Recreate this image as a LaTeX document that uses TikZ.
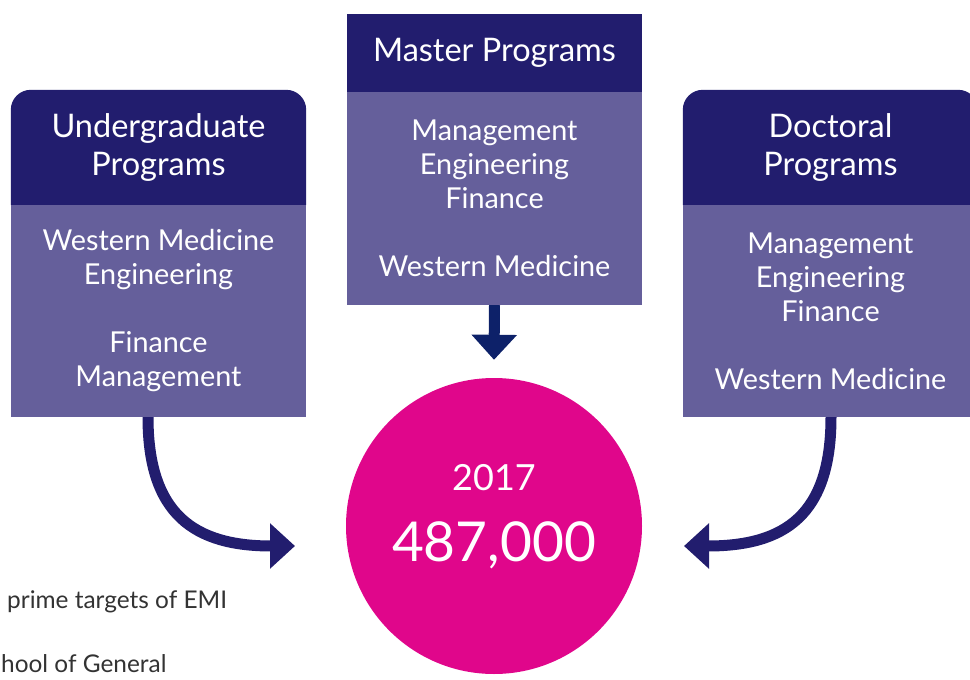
\documentclass[tikz,border=0pt]{standalone}
\usepackage{fontspec}
\setmainfont{Lato}
\usetikzlibrary{arrows.meta,backgrounds}
\definecolor{hdrblue}{RGB}{34,29,110}
\definecolor{bodyblue}{RGB}{101,95,155}
\definecolor{pinkdot}{RGB}{224,6,139}
\definecolor{downblue}{RGB}{13,33,105}
\definecolor{notegray}{RGB}{51,51,51}
\begin{document}
\begin{tikzpicture}[x=1pt, y=-1pt,
    head/.style={minimum width=295pt, inner sep=0pt, text=white, align=center, font=\fontsize{32.5}{38}\selectfont},
    body/.style={fill=bodyblue, minimum width=295pt, inner sep=0pt, text=white, align=center, font=\fontsize{28.8}{34}\selectfont},
    curvearrow/.style={draw=hdrblue, line width=11pt, -{Triangle[length=25pt,width=44pt]}},
    droparrow/.style={draw=downblue, line width=11pt, -{Triangle[length=25pt,width=44pt]}},
    note/.style={anchor=west, inner sep=0pt, text=notegray, font=\fontsize{24.4}{28}\selectfont}]
  \useasboundingbox (0,0) rectangle (970,680);
  \clip (0,0) rectangle (970,680);

  \node[head, minimum height=115pt] (ugHead) at (158.5,147.5) {Undergraduate\\Programs};
  \node[body, minimum height=212pt] (ugBody) at (158.5,311) {Western Medicine\\Engineering\\[34pt]Finance\\Management};

  \node[head, minimum height=78pt, fill=hdrblue] (msHead) at (494.5,53) {Master Programs};
  \node[body, minimum height=213pt] (msBody) at (494.5,198.5) {Management\\Engineering\\Finance\\[34pt]Western Medicine};

  \node[head, minimum height=115pt] (drHead) at (830.5,147.5) {Doctoral\\Programs};
  \node[body, minimum height=212pt] (drBody) at (830.5,311) {Management\\Engineering\\Finance\\[34pt]Western Medicine};

  \begin{scope}[on background layer]
    \fill[hdrblue] (ugHead.south west) [rounded corners=20pt] |- (ugHead.north east) [sharp corners] -- (ugHead.south east) -- cycle;
    \fill[hdrblue] (drHead.south east) [rounded corners=20pt] |- (drHead.north west) [sharp corners] -- (drHead.south west) -- cycle;
  \end{scope}

  \node[circle, fill=pinkdot, minimum size=296pt, inner sep=0pt] (total) at (494,526) {};
  \node[text=white, font=\fontsize{36}{42}\selectfont] (year) at (494,478) {2017};
  \node[text=white, font=\fontsize{55}{66}\selectfont] (count) at (494,545) {487,000};

  \coordinate (ugTip) at (295,546);
  \coordinate (drTip) at (684,546);

  \draw[curvearrow] ([xshift=-10.5pt]ugBody.south) .. controls (148,515) and (195,546) .. (ugTip);
  \draw[curvearrow] ([xshift=0.5pt]drBody.south) .. controls (831,515) and (785,546) .. (drTip);
  \draw[droparrow] (msBody.south) -- ([yshift=18pt]total.north);

  \node[note] (noteA) at (7,602) {prime targets of EMI};
  \node[note] (noteB) at (1,664) {hool of General};
\end{tikzpicture}
\end{document}
